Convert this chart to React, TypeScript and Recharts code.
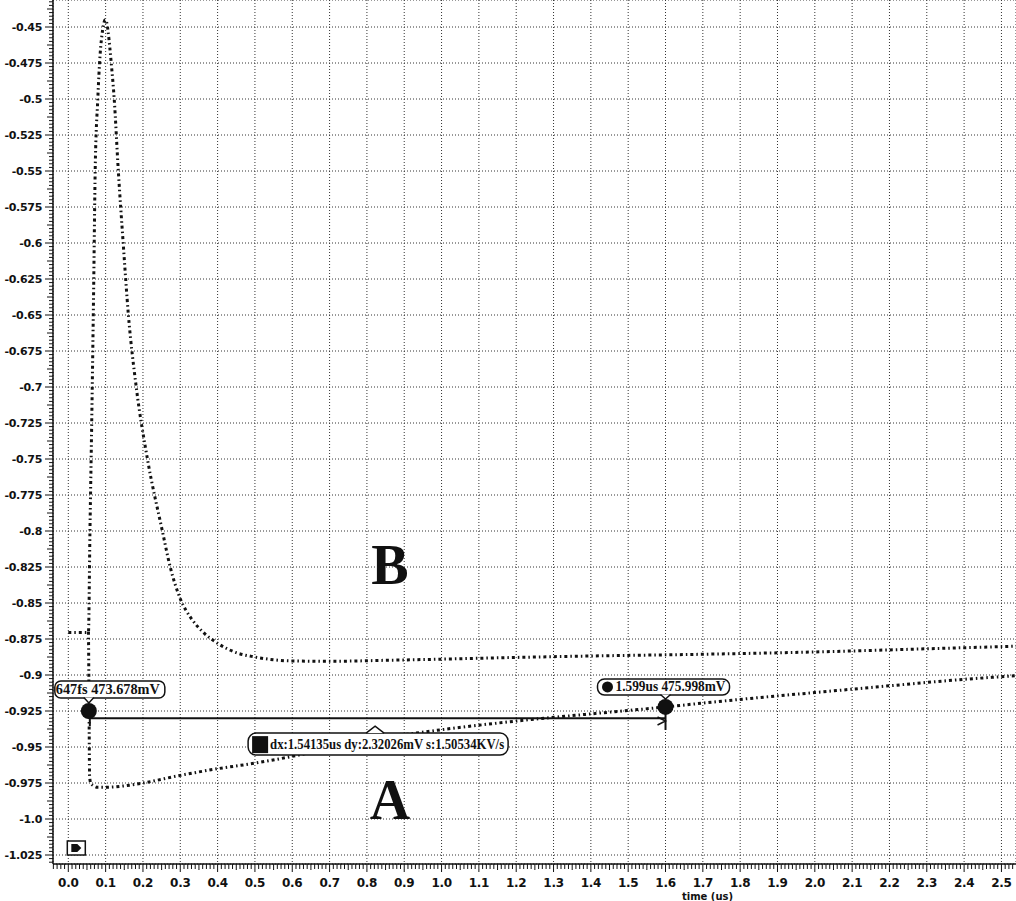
import {
  ComposedChart,
  Line,
  XAxis,
  YAxis,
  CartesianGrid,
  ReferenceDot,
  ReferenceLine,
} from "recharts";

const W = 1016;
const H = 901;
const Y_AXIS_W = 53;
const X_AXIS_H = 37;
const PLOT_H = H - X_AXIS_H;
const PLOT_W = W - Y_AXIS_W;
const X_MIN = -0.041;
const X_MAX = 2.539;
const Y_MIN = -1.03125;
const Y_MAX = -0.43125;
const X_PX = PLOT_W / (X_MAX - X_MIN);
const Y_PX = PLOT_H / (Y_MAX - Y_MIN);

// curve B (upper, spike then settle)
const bTime = [
  0, 0.03, 0.05, 0.054, 0.058, 0.063, 0.068, 0.072, 0.079, 0.085, 0.092, 0.099,
  0.103, 0.107, 0.115, 0.123, 0.134, 0.147, 0.161, 0.182, 0.212, 0.252, 0.273,
  0.3, 0.33, 0.36, 0.4, 0.45, 0.5, 0.595, 0.7, 0.85, 1.0, 1.2, 1.4, 1.7, 2.0,
  2.3, 2.539,
];
const bVolt = [
  -0.8705, -0.8705, -0.8705, -0.87, -0.8, -0.72, -0.63, -0.55, -0.5, -0.47,
  -0.452, -0.445, -0.447, -0.454, -0.475, -0.5, -0.55, -0.6, -0.65, -0.7, -0.75,
  -0.8, -0.825, -0.847, -0.861, -0.87, -0.878, -0.8845, -0.8875, -0.8902,
  -0.8905, -0.8898, -0.889, -0.8878, -0.8868, -0.8856, -0.884, -0.8818, -0.88,
];

// curve A (lower, dip then slow rise)
const aTime = [
  0.054, 0.055, 0.056, 0.057, 0.06, 0.068, 0.078, 0.1, 0.15, 0.2, 0.3, 0.39,
  0.5, 0.6, 0.7, 0.85, 1.0, 1.2, 1.4, 1.6, 1.7, 1.9, 2.0, 2.2, 2.4, 2.539,
];
const aVolt = [
  -0.87, -0.9, -0.94, -0.97, -0.975, -0.977, -0.978, -0.978, -0.977, -0.975,
  -0.9697, -0.9655, -0.9612, -0.9565, -0.951, -0.9435, -0.938, -0.932, -0.927,
  -0.9222, -0.9195, -0.9145, -0.9122, -0.9075, -0.903, -0.9005,
];

const xTicks = [
  0.0, 0.1, 0.2, 0.3, 0.4, 0.5, 0.6, 0.7, 0.8, 0.9, 1.0, 1.1, 1.2, 1.3, 1.4,
  1.5, 1.6, 1.7, 1.8, 1.9, 2.0, 2.1, 2.2, 2.3, 2.4, 2.5,
];
const xTickLabels = [
  "0.0", "0.1", "0.2", "0.3", "0.4", "0.5", "0.6", "0.7", "0.8", "0.9", "1.0",
  "1.1", "1.2", "1.3", "1.4", "1.5", "1.6", "1.7", "1.8", "1.9", "2.0", "2.1",
  "2.2", "2.3", "2.4", "2.5",
];
const yTicks = [
  -0.45, -0.475, -0.5, -0.525, -0.55, -0.575, -0.6, -0.625, -0.65, -0.675,
  -0.7, -0.725, -0.75, -0.775, -0.8, -0.825, -0.85, -0.875, -0.9, -0.925,
  -0.95, -0.975, -1.0, -1.025,
];
const yTickLabels = [
  "-0.45", "-0.475", "-0.5", "-0.525", "-0.55", "-0.575", "-0.6", "-0.625",
  "-0.65", "-0.675", "-0.7", "-0.725", "-0.75", "-0.775", "-0.8", "-0.825",
  "-0.85", "-0.875", "-0.9", "-0.925", "-0.95", "-0.975", "-1.0", "-1.025",
];

const cursor1 = { t: 0.055, v: -0.925 };
const cursor2 = { t: 1.6, v: -0.9222 };
const deltaLevel = -0.93;
const deltaBox = { t: 0.83, v: -0.948 };
const cursor1Text = "647fs 473.678mV";
const cursor2Text = "1.599us 475.998mV";
const deltaText = "dx:1.54135us dy:2.32026mV s:1.50534KV/s";
const labelB = { t: 0.862, v: -0.8236, text: "B" };
const labelA = { t: 0.862, v: -0.9868, text: "A" };

const bData = bTime.map((t, i) => ({ t, v: bVolt[i] }));
const aData = aTime.map((t, i) => ({ t, v: aVolt[i] }));

const INK = "#111";
const tickFont = "'DejaVu Sans', sans-serif";
const noteFont = "'Liberation Serif', serif";

const YTick = (props: any) => {
  const { y, payload, index } = props;
  const step = 0.0025 * Y_PX;
  const marks = [];
  const from = index === 0 ? -9 : 0;
  for (let k = from; k < 10; k++) {
    const yy = y + k * step;
    if (yy < 0 || yy > PLOT_H) continue;
    const len = k === 0 ? 8 : k === 5 || k === -5 ? 6 : 4;
    marks.push(
      <line key={k} x1={Y_AXIS_W - len} x2={Y_AXIS_W} y1={yy} y2={yy} stroke={INK} strokeWidth={1} />
    );
  }
  return (
    <g>
      {marks}
      <text
        x={42}
        y={y}
        textAnchor="end"
        dominantBaseline="central"
        fontFamily={tickFont}
        fontWeight="bold"
        fontSize={11}
        letterSpacing={-0.3}
        fill={INK}
      >
        {yTickLabels[yTicks.indexOf(payload.value)]}
      </text>
    </g>
  );
};

const XTick = (props: any) => {
  const { x, payload, index } = props;
  const step = 0.01 * X_PX;
  const marks = [];
  const from = index === 0 ? -9 : 0;
  for (let k = from; k < 10; k++) {
    const xx = x + k * step;
    if (xx < Y_AXIS_W || xx > W) continue;
    const len = k === 0 ? 8 : k === 5 || k === -5 ? 6 : 5;
    marks.push(
      <line key={k} x1={xx} x2={xx} y1={PLOT_H} y2={PLOT_H + len} stroke={INK} strokeWidth={1} />
    );
  }
  return (
    <g>
      {marks}
      <text
        x={x}
        y={PLOT_H + 19}
        textAnchor="middle"
        dominantBaseline="central"
        fontFamily={tickFont}
        fontWeight="bold"
        fontSize={12}
        letterSpacing={-0.3}
        fill={INK}
      >
        {xTickLabels[xTicks.indexOf(payload.value)]}
      </text>
    </g>
  );
};

const Cursor1Shape = (props: any) => {
  const { cx, cy } = props;
  return (
    <g>
      <line x1={cx + 1} x2={cx + 1} y1={cy} y2={cy + 15} stroke={INK} strokeWidth={2} />
      <circle cx={cx} cy={cy} r={8} fill={INK} />
      <rect x={cx - 34} y={cy - 30} width={110} height={17} rx={6} fill="#fff" stroke={INK} strokeWidth={1.5} />
      <path d={`M${cx - 5} ${cy - 13.5} L${cx} ${cy - 8} L${cx + 5} ${cy - 13.5}`} fill="#fff" stroke={INK} strokeWidth={1.5} />
      <text
        x={cx - 33}
        y={cy - 17}
        fontFamily={noteFont}
        fontWeight="bold"
        fontSize={14}
        fill={INK}
        textLength={104}
        lengthAdjust="spacingAndGlyphs"
      >
        {cursor1Text}
      </text>
    </g>
  );
};

const Cursor2Shape = (props: any) => {
  const { cx, cy } = props;
  return (
    <g>
      <line x1={cx} x2={cx} y1={cy} y2={cy + 23} stroke={INK} strokeWidth={2} />
      <path d={`M${cx - 8} ${cy + 10} L${cx} ${cy + 14} L${cx - 8} ${cy + 18}`} fill="none" stroke={INK} strokeWidth={1.5} />
      <circle cx={cx} cy={cy} r={8} fill={INK} />
      <rect x={cx - 68} y={cy - 28} width={132} height={16} rx={7} fill="#fff" stroke={INK} strokeWidth={1.5} />
      <path d={`M${cx - 5} ${cy - 12.5} L${cx} ${cy - 8} L${cx + 5} ${cy - 12.5}`} fill="#fff" stroke={INK} strokeWidth={1.5} />
      <circle cx={cx - 58} cy={cy - 20} r={5.5} fill={INK} />
      <text
        x={cx - 50}
        y={cy - 15.5}
        fontFamily={noteFont}
        fontWeight="bold"
        fontSize={14}
        fill={INK}
        textLength={110}
        lengthAdjust="spacingAndGlyphs"
      >
        {cursor2Text}
      </text>
    </g>
  );
};

const DeltaShape = (props: any) => {
  const { cx, cy } = props;
  return (
    <g>
      <rect x={cx - 130} y={cy - 11} width={260} height={22} rx={8} fill="#fff" stroke={INK} strokeWidth={1.5} />
      <path d={`M${cx - 12} ${cy - 11} L${cx - 3} ${cy - 18} L${cx + 6} ${cy - 11}`} fill="#fff" stroke={INK} strokeWidth={1.5} />
      <rect x={cx - 126} y={cy - 8} width={16} height={17} fill={INK} />
      <text
        x={cx - 108}
        y={cy + 5}
        fontFamily={noteFont}
        fontWeight="bold"
        fontSize={14}
        fill={INK}
        textLength={234}
        lengthAdjust="spacingAndGlyphs"
      >
        {deltaText}
      </text>
    </g>
  );
};

const BigLetter = (text: string) => (props: any) => (
  <text
    x={props.cx}
    y={props.cy}
    textAnchor="middle"
    dominantBaseline="central"
    fontFamily={noteFont}
    fontWeight="bold"
    fontSize={56}
    fill={INK}
  >
    {text}
  </text>
);

const IconShape = (props: any) => {
  const { cx, cy } = props;
  return (
    <g>
      <rect x={cx - 1} y={cy - 14} width={18} height={14} fill="#fff" stroke={INK} strokeWidth={1.5} />
      <path d={`M${cx + 3} ${cy - 11} L${cx + 9} ${cy - 11} L${cx + 13} ${cy - 7} L${cx + 9} ${cy - 3} L${cx + 3} ${cy - 3} Z`} fill={INK} />
    </g>
  );
};

export default function App() {
  return (
    <div style={{ position: "absolute", left: 0, top: 0, background: "#fff" }}>
      <ComposedChart width={W} height={H} margin={{ top: 0, right: 0, bottom: 0, left: 0 }}>
        <CartesianGrid stroke="#333" strokeDasharray="1 2" />
        <XAxis
          dataKey="t"
          type="number"
          domain={[X_MIN, X_MAX]}
          allowDataOverflow
          ticks={xTicks}
          interval={0}
          height={X_AXIS_H}
          tickLine={false}
          axisLine={{ stroke: INK, strokeWidth: 1.5 }}
          tick={XTick}
          label={{
            value: "time (us)",
            position: "insideBottom",
            offset: 1,
            dx: 173,
            style: { fontFamily: tickFont, fontWeight: "bold", fontSize: 10, fill: INK },
          }}
        />
        <YAxis
          type="number"
          domain={[Y_MIN, Y_MAX]}
          allowDataOverflow
          ticks={yTicks}
          interval={0}
          width={Y_AXIS_W}
          tickLine={false}
          axisLine={{ stroke: INK, strokeWidth: 1.5 }}
          tick={YTick}
        />
        <Line
          data={bData}
          dataKey="v"
          type="monotone"
          dot={false}
          stroke={INK}
          strokeWidth={3}
          strokeDasharray="3 3 1.5 3"
          isAnimationActive={false}
        />
        <Line
          data={aData}
          dataKey="v"
          type="monotone"
          dot={false}
          stroke={INK}
          strokeWidth={3}
          strokeDasharray="3 3 1.5 3"
          isAnimationActive={false}
        />
        <ReferenceLine
          segment={[
            { x: cursor1.t, y: deltaLevel },
            { x: cursor2.t, y: deltaLevel },
          ]}
          stroke={INK}
          strokeWidth={2}
        />
        <ReferenceDot x={deltaBox.t} y={deltaBox.v} shape={DeltaShape} />
        <ReferenceDot x={cursor1.t} y={cursor1.v} shape={Cursor1Shape} />
        <ReferenceDot x={cursor2.t} y={cursor2.v} shape={Cursor2Shape} />
        <ReferenceDot x={labelB.t} y={labelB.v} shape={BigLetter(labelB.text)} />
        <ReferenceDot x={labelA.t} y={labelA.v} shape={BigLetter(labelA.text)} />
        <ReferenceDot x={0} y={-1.025} shape={IconShape} />
      </ComposedChart>
    </div>
  );
}
